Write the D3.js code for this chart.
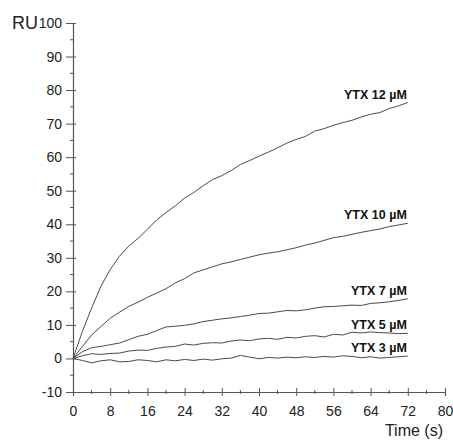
<!DOCTYPE html>
<html>
<head>
<meta charset="utf-8">
<script src="https://cdn.jsdelivr.net/npm/d3@7"></script>
<style>
  body { margin: 0; background: #fff; }
  svg { font-family: "Liberation Sans", Arial, sans-serif; }
</style>
</head>
<body>
<svg id="chart" width="453" height="440"></svg>
<script>
// sampling times (s)
const times = [0, 2, 4, 6, 8, 10, 12, 14, 16, 18, 20, 22, 24, 26, 28, 30, 32, 34, 36,
  38, 40, 42, 44, 46, 48, 50, 52, 54, 56, 58, 60, 62, 64, 66, 68, 70, 72];

// response (RU) per YTX concentration
const ytx12 = [0, 8, 15, 21.5, 26.5, 30.5, 33.5, 35.8, 38.5, 41.3, 43.5, 45.5, 47.8, 49.5,
  51.5, 53.3, 54.5, 56, 57.8, 59, 60.3, 61.5, 62.8, 64.2, 65.3, 66.2, 67.8, 68.5, 69.5,
  70.3, 71, 72, 72.8, 73.3, 74.5, 75.3, 76.3];
const ytx10 = [0, 3.5, 7, 9.5, 12, 13.8, 15.5, 16.8, 18.2, 19.5, 20.8, 22.5, 23.8, 25.5,
  26.4, 27.3, 28.2, 28.8, 29.5, 30.2, 30.9, 31.4, 31.8, 32.4, 33, 33.8, 34.4, 35.2, 36,
  36.4, 37, 37.6, 38.1, 38.6, 39.3, 39.8, 40.3];
const ytx7 = [0, 2, 3.2, 3.6, 4.1, 4.6, 5.6, 6.6, 7.2, 8.3, 9.4, 9.6, 9.9, 10.3, 11, 11.4,
  11.8, 12.1, 12.5, 12.9, 13.4, 13.5, 13.9, 14.3, 14.2, 14.5, 15, 15.4, 15.5, 15.7, 15.9,
  15.8, 16.4, 16.6, 16.9, 17.3, 17.8];
const ytx5 = [0, 0.8, 1.4, 1.2, 1.5, 1.6, 2.2, 2.5, 2.4, 3.0, 3.4, 3.6, 4.3, 4.0, 4.5, 4.7,
  4.6, 5.2, 5.5, 5.3, 5.8, 6.0, 5.7, 6.3, 6.1, 6.6, 6.8, 6.4, 7.2, 7.0, 7.8, 7.6, 7.9,
  7.7, 7.6, 7.4, 7.5];
const ytx3 = [0, -0.6, -1.3, -0.7, -0.4, -1.0, -0.9, -0.4, -0.6, -1.0, -0.4, -0.7, -0.3,
  -0.6, -0.2, -0.5, -0.1, 0.1, 0.9, 0.4, -0.1, 0.3, 0.1, 0.4, 0.2, 0.5, 0.3, 0.6, 0.4,
  0.8, 0.6, 0.2, 0.5, 0.1, 0.3, 0.5, 0.7];

const seriesNames = ["YTX 12 µM", "YTX 10 µM", "YTX 7 µM", "YTX 5 µM", "YTX 3 µM"];
const seriesValues = [ytx12, ytx10, ytx7, ytx5, ytx3];

const xTicks = [0, 8, 16, 24, 32, 40, 48, 56, 64, 72, 80];
const yTicks = [-10, 0, 10, 20, 30, 40, 50, 60, 70, 80, 90, 100];

const svg = d3.select("#chart");

const x = d3.scaleLinear().domain([0, 80]).range([73, 445]);
const y = d3.scaleLinear().domain([-10, 100]).range([392, 23]);

const axisColor = "#555";
const plain = (d) => String(d); // keep "-10" with a hyphen, as in the original

// y axis
const yAxis = svg.append("g")
  .attr("transform", `translate(${x(0)},0)`)
  .call(d3.axisLeft(y).tickValues(yTicks).tickFormat(plain).tickSize(7).tickPadding(4));
yAxis.selectAll(".tick line").attr("x1", 3);
// minor ticks every 5
svg.append("g")
  .selectAll("line")
  .data(d3.range(-5, 100, 10))
  .enter()
  .append("line")
  .attr("x1", x(0) - 3)
  .attr("x2", x(0))
  .attr("y1", (d) => y(d))
  .attr("y2", (d) => y(d))
  .attr("stroke", axisColor);

// x axis
const xAxis = svg.append("g")
  .attr("transform", `translate(0,${y(-10)})`)
  .call(d3.axisBottom(x).tickValues(xTicks).tickFormat(plain).tickSize(4).tickPadding(10));
xAxis.selectAll(".tick line").attr("y1", -4);
// minor ticks every 4 s
svg.append("g")
  .selectAll("line")
  .data(d3.range(4, 80, 8))
  .enter()
  .append("line")
  .attr("x1", (d) => x(d))
  .attr("x2", (d) => x(d))
  .attr("y1", y(-10) - 2)
  .attr("y2", y(-10) + 2)
  .attr("stroke", axisColor);

[yAxis, xAxis].forEach((g) => {
  g.select(".domain").attr("stroke", axisColor).attr("stroke-width", 1.2);
  g.selectAll(".tick line").attr("stroke", axisColor);
  g.selectAll(".tick text")
    .attr("fill", "#222")
    .style("font-size", "14px")
    .style("font-family", "'Liberation Sans', Arial, sans-serif");
});

// axis titles
svg.append("text")
  .attr("x", 12)
  .attr("y", 29)
  .attr("font-size", 18)
  .attr("fill", "#222")
  .text("RU");
svg.append("text")
  .attr("x", 443)
  .attr("y", 436)
  .attr("text-anchor", "end")
  .attr("font-size", 16)
  .attr("fill", "#222")
  .text("Time (s)");

// curves
const line = d3.line()
  .x((d, i) => x(times[i]))
  .y((d) => y(d));

svg.append("g")
  .selectAll("path")
  .data(seriesValues)
  .enter()
  .append("path")
  .attr("d", line)
  .attr("fill", "none")
  .attr("stroke", "#4a4a4a")
  .attr("stroke-width", 1)
  .attr("stroke-linejoin", "round");

// curve labels
svg.append("g")
  .selectAll("text")
  .data(seriesValues)
  .enter()
  .append("text")
  .attr("x", x(72) - 1)
  .attr("y", (d) => y(d[d.length - 1]) - 4)
  .attr("text-anchor", "end")
  .attr("font-size", 12.5)
  .attr("font-weight", "bold")
  .attr("fill", "#111")
  .text((d, i) => seriesNames[i]);
</script>
</body>
</html>
